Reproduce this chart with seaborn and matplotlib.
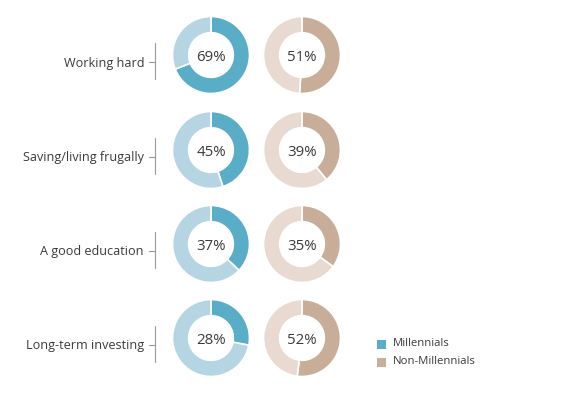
import numpy as np
import pandas as pd
import seaborn as sns
import matplotlib.pyplot as plt

sns.set_style("white")
plt.rcParams['font.family'] = ['Open Sans', 'DejaVu Sans']

# data
categories = ["Working hard", "Saving/living frugally", "A good education", "Long-term investing"]
millennials = [69, 45, 37, 28]
non_millennials = [51, 39, 35, 52]
groups = ["Millennials", "Non-Millennials"]

dark = {"Millennials": "#5aadc7", "Non-Millennials": "#c8ae98"}
light = {"Millennials": "#b6d5e3", "Non-Millennials": "#e8dad0"}
text_col = "#3a3a3a"

W, H = 580, 397
fig = plt.figure(figsize=(W / 100, H / 100), dpi=100)

# background axes in pixel coords for labels / brackets / legend
bg = fig.add_axes([0, 0, 1, 1])
bg.set_xlim(0, W)
bg.set_ylim(H, 0)
bg.axis("off")

row_y = [55, 150, 244, 338]
col_x = {"Millennials": 211, "Non-Millennials": 302}
R = 38.5

df = pd.DataFrame({"category": categories, "Millennials": millennials,
                   "Non-Millennials": non_millennials})

for i, row in df.iterrows():
    y = row_y[i]
    # label with bracket
    bg.text(144, y + 8, row["category"], ha="right", va="center", fontsize=9.1, color=text_col)
    bg.plot([155, 155], [y - 12, y + 24], color="#9a9a9a", lw=0.8)
    bg.plot([149, 155], [y + 7, y + 7], color="#9a9a9a", lw=0.8)

    for g in groups:
        v = row[g]
        cx = col_x[g]
        ax = fig.add_axes([(cx - R) / W, 1 - (y + R) / H, 2 * R / W, 2 * R / H])
        ax.pie([v, 100 - v], startangle=90, counterclock=False,
               colors=[dark[g], light[g]],
               wedgeprops=dict(width=0.42, edgecolor="white", linewidth=1.2))
        ax.set_xlim(-1, 1)
        ax.set_ylim(-1, 1)
        ax.text(0, -0.06, f"{v}%", ha="center", va="center", fontsize=10.8, color=text_col)

# legend
for j, g in enumerate(groups):
    ly = 344 + j * 18
    bg.add_patch(plt.Rectangle((377, ly - 4.5), 9, 9, color=dark[g], lw=0))
    bg.text(393, ly, g, ha="left", va="center", fontsize=8.2, color=text_col)

fig.savefig("out.png", dpi=100)
